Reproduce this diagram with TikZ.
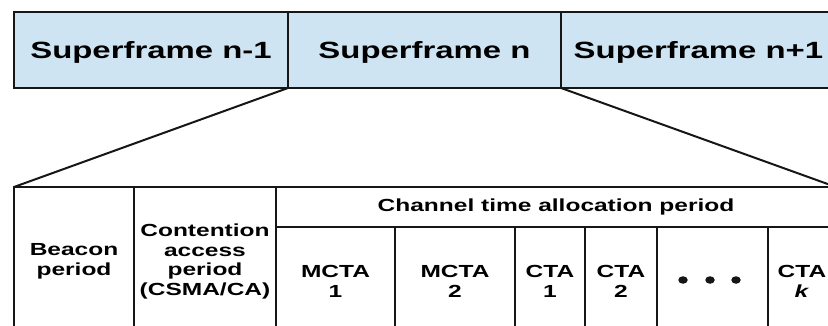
\documentclass[tikz,border=0pt]{standalone}
\usepackage{fontspec}
\setmainfont{Liberation Sans}
\newfontfamily\widesans[FakeStretch=1.4]{Liberation Sans}
\usetikzlibrary{shapes.geometric}
\definecolor{sfblue}{RGB}{207,228,242}
\definecolor{ink}{RGB}{22,22,22}
\tikzset{
  sfbox/.style={draw=ink, line width=2pt, fill=sfblue, minimum height=76pt,
    inner sep=0pt, outer sep=0pt, anchor=north west, text depth=0pt,
    font=\widesans\bfseries\fontsize{23.5}{26}\selectfont},
  cell/.style={draw=ink, line width=2.6pt, inner sep=0pt, outer sep=0pt,
    anchor=north west, align=center,
    font=\widesans\bfseries\fontsize{17.5}{19.5}\selectfont},
  zoomline/.style={draw=ink, line width=2pt},
  bigdot/.style={ellipse, fill=ink, inner sep=0pt, minimum width=9.5pt, minimum height=7.5pt}
}
\begin{document}
\begin{tikzpicture}[x=1pt, y=-1pt]
  \fill[white] (0,0) rectangle (828,326);
  \useasboundingbox (0,0) rectangle (828,326);
  \clip (0,0) rectangle (828,326);

  % superframe sequence
  \node[sfbox, minimum width=274pt] (sfprev) at (14,12) {Superframe n-1};
  \node[sfbox, minimum width=273pt] (sfcur)  at (288,12) {Superframe n};
  \node[sfbox, minimum width=275pt] (sfnext) at (561,12) {Superframe n+1};

  % structure of one superframe
  \node[cell, minimum width=120pt, minimum height=149pt] (beacon) at (14,187) {Beacon\\period};
  \node[cell, minimum width=142pt, minimum height=149pt] (cap) at (134,187) {Contention\\access\\period\\(CSMA/CA)};
  \node[cell, minimum width=560pt, minimum height=40pt] (ctap) at (276,187) {Channel time allocation period};
  \node[cell, minimum width=119pt, minimum height=109pt] (mcta1) at (276,227) {MCTA\\1};
  \node[cell, minimum width=120pt, minimum height=109pt] (mcta2) at (395,227) {MCTA\\2};
  \node[cell, minimum width=70pt,  minimum height=109pt] (cta1)  at (515,227) {CTA\\1};
  \node[cell, minimum width=72pt,  minimum height=109pt] (cta2)  at (585,227) {CTA\\2};
  \node[cell, minimum width=111pt, minimum height=109pt] (ctadots) at (657,227) {};
  \node[cell, minimum width=68pt,  minimum height=109pt] (ctak)  at (768,227) {CTA\\\textit{k}};

  % ellipsis between CTA 2 and CTA k
  \node[bigdot] (dota) at (683,280) {};
  \node[bigdot] (dotb) at (710,280) {};
  \node[bigdot] (dotc) at (736,280) {};

  % expansion lines from superframe n
  \draw[zoomline] (sfcur.south west) -- (beacon.north west);
  \draw[zoomline] (sfcur.south east) -- (ctap.north east);
\end{tikzpicture}
\end{document}
